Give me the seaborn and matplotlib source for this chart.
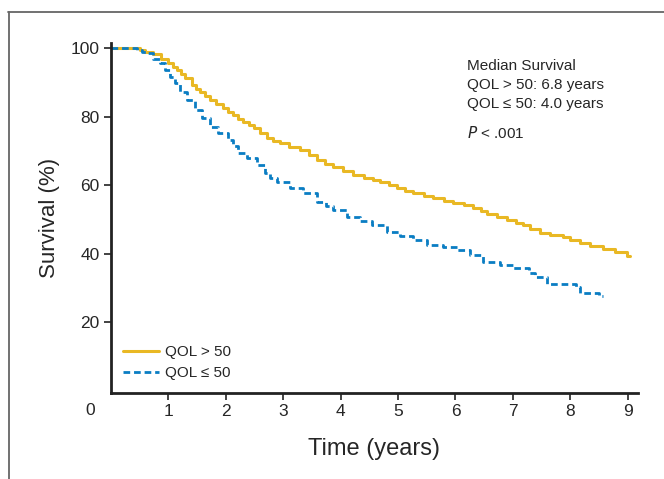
import matplotlib
matplotlib.use('Agg')
import numpy as np
import pandas as pd
import matplotlib.pyplot as plt
import seaborn as sns
from matplotlib.lines import Line2D

# Kaplan-Meier steps (time in years, survival in %)
high_time = [0, 0.5, 0.6, 0.73, 0.88, 1.0, 1.08, 1.15, 1.22, 1.29, 1.41, 1.48, 1.55, 1.63,
             1.72, 1.83, 1.95, 2.04, 2.13, 2.22, 2.3, 2.4, 2.5, 2.6, 2.72, 2.82, 2.94, 3.1,
             3.29, 3.45, 3.59, 3.73, 3.87, 4.05, 4.22, 4.4, 4.56, 4.69, 4.85, 4.98, 5.12,
             5.26, 5.45, 5.61, 5.8, 5.96, 6.15, 6.31, 6.45, 6.55, 6.72, 6.9, 7.05, 7.18,
             7.3, 7.47, 7.65, 7.87, 8.0, 8.17, 8.35, 8.57, 8.78, 8.99, 9.04]
high_surv = [100, 99.5, 99.0, 98.2, 97.0, 95.6, 94.6, 93.6, 92.4, 91.2, 89.2, 88.2, 87.2, 86.0,
             84.8, 83.6, 82.5, 81.5, 80.5, 79.4, 78.4, 77.6, 76.7, 75.3, 73.8, 73.0, 72.3, 71.3,
             70.3, 68.8, 67.3, 66.3, 65.3, 64.2, 63.0, 62.2, 61.5, 60.9, 60.0, 59.2, 58.4,
             57.7, 56.9, 56.3, 55.5, 54.8, 54.1, 53.4, 52.6, 51.6, 50.8, 49.9, 49.1, 48.4,
             47.2, 46.1, 45.5, 44.9, 44.0, 43.1, 42.3, 41.4, 40.5, 39.4, 39.4]

low_time = [0, 0.45, 0.55, 0.62, 0.73, 0.85, 0.94, 1.03, 1.11, 1.2, 1.32, 1.46, 1.58, 1.72,
            1.86, 2.04, 2.12, 2.21, 2.37, 2.54, 2.68, 2.77, 2.89, 3.12, 3.34, 3.59, 3.75,
            3.87, 4.11, 4.34, 4.55, 4.8, 5.03, 5.26, 5.5, 5.78, 6.03, 6.25, 6.48, 6.78, 7.0,
            7.28, 7.39, 7.6, 8.1, 8.17, 8.5, 8.57]
low_surv = [100, 99.5, 99.0, 98.5, 97.0, 95.6, 93.6, 91.5, 89.8, 87.2, 84.8, 81.9, 79.6, 77.0,
            75.2, 73.2, 71.5, 69.4, 67.9, 65.9, 63.6, 62.1, 60.9, 59.2, 57.7, 55.1, 53.8,
            52.8, 50.7, 49.6, 48.4, 46.4, 45.2, 44.0, 42.6, 42.0, 41.1, 39.7, 37.6, 36.7, 35.9,
            34.3, 33.2, 31.2, 30.3, 28.6, 27.7, 27.7]

x_ticks = [1, 2, 3, 4, 5, 6, 7, 8, 9]
y_ticks = [20, 40, 60, 80, 100]
labels = ['QOL > 50', 'QOL \u2264 50']

yellow = '#E9B824'
blue = '#0A7DC3'

sns.set_style('ticks')
plt.rcParams['font.family'] = ['Liberation Sans', 'DejaVu Sans']

fig = plt.figure(figsize=(6.64, 4.79), dpi=100)
ax = fig.add_axes([0.167, 0.180, 0.794, 0.730])

high = pd.DataFrame({'time': high_time, 'surv': high_surv})
low = pd.DataFrame({'time': low_time, 'surv': low_surv})

sns.lineplot(data=high, x='time', y='surv', ax=ax, estimator=None, drawstyle='steps-post',
             color=yellow, linewidth=2.2)
sns.lineplot(data=low, x='time', y='surv', ax=ax, estimator=None, drawstyle='steps-post',
             color=blue, linewidth=2.0, linestyle=(0, (2.4, 1.4)))

ax.set_xlim(0, 9.18)
ax.set_ylim(-0.6, 101.5)
ax.set_xticks(x_ticks)
ax.set_yticks(y_ticks)
ax.tick_params(axis='both', labelsize=12.5, length=5, width=1.2, color='#222222', pad=3)
for s in ['top', 'right']:
    ax.spines[s].set_visible(False)
for s in ['left', 'bottom']:
    ax.spines[s].set_linewidth(2.0)
    ax.spines[s].set_color('#222222')

ax.set_xlabel('Time (years)', fontsize=17, labelpad=14)
ax.set_ylabel('Survival (%)', fontsize=16, labelpad=8)
ax.text(-0.031, -0.05, '0', transform=ax.transAxes, fontsize=12.5, ha='right', va='center')

handles = [Line2D([], [], color=yellow, linewidth=2.2),
           Line2D([], [], color=blue, linewidth=2.0, linestyle=(0, (2.4, 1.4)))]
ax.legend(handles, labels, loc='lower left', bbox_to_anchor=(0.005, 0.01), frameon=False,
          fontsize=11, handlelength=2.4, handletextpad=0.4, labelspacing=0.45,
          borderaxespad=0.2)

ax.text(0.676, 0.955, 'Median Survival\nQOL > 50: 6.8 years\nQOL \u2264 50: 4.0 years',
        transform=ax.transAxes, fontsize=11, va='top', ha='left', linespacing=1.45)
ax.text(0.676, 0.765, '$\\it{P}$ < .001', transform=ax.transAxes, fontsize=11,
        va='top', ha='left')

# grey frame around the panel (top and left only)
fig.add_artist(Line2D([0.012, 1.0], [0.975, 0.975], transform=fig.transFigure,
                      color='#666666', linewidth=1.3))
fig.add_artist(Line2D([0.0135, 0.0135], [0.0, 0.975], transform=fig.transFigure,
                      color='#666666', linewidth=1.3))

fig.savefig('out.png', dpi=100)
